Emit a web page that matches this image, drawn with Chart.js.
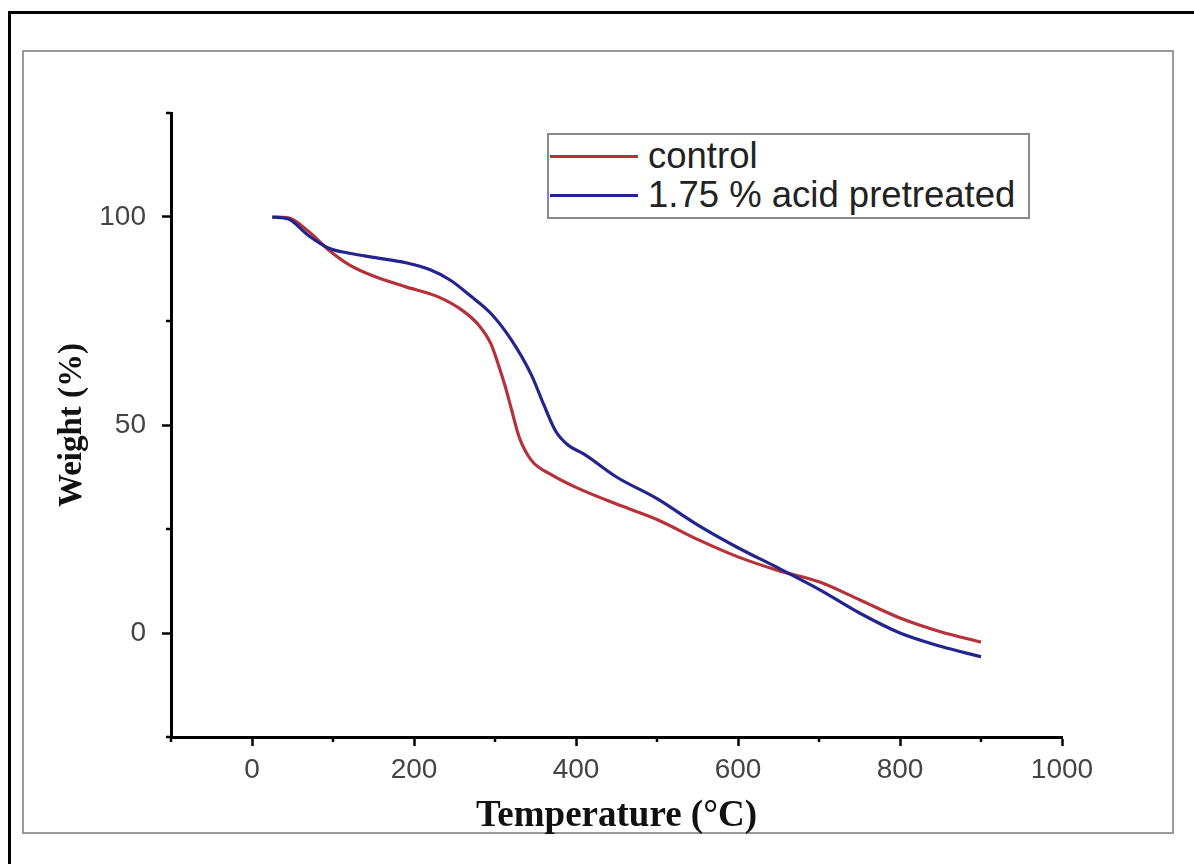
<!DOCTYPE html>
<html>
<head>
<meta charset="utf-8">
<script src="https://cdn.jsdelivr.net/npm/chart.js@4.4.1/dist/chart.umd.min.js"></script>
<style>
  html, body { margin: 0; padding: 0; background: #fff; width: 1194px; height: 864px; overflow: hidden; }
  #outer { position: absolute; left: 8px; top: 11px; width: 1300px; height: 1000px; border-left: 3px solid #000; border-top: 3px solid #000; }
  #frame { position: absolute; left: 22px; top: 50px; width: 1148px; height: 780px; border: 2px solid #9a9a9a; }
  #wrap { position: absolute; left: 0; top: 0; width: 1194px; height: 864px; }
  #legend { position: absolute; left: 547px; top: 133px; width: 479px; height: 82px; border: 2px solid #8a8a8a; background: #fff;
            font-family: "Liberation Sans", Arial, sans-serif; font-size: 36.5px; color: #222; }
  .row { position: absolute; left: 0; height: 40px; display: flex; align-items: center; white-space: nowrap; }
  .swatch { width: 88px; height: 3px; margin-left: 1px; margin-right: 10px; }
</style>
</head>
<body>
<div id="outer"></div>
<div id="frame"></div>
<div id="wrap"><canvas id="c" width="1194" height="864"></canvas></div>
<div id="legend">
  <div class="row" style="top:1px"><div class="swatch" id="sw0"></div><span id="lb0"></span></div>
  <div class="row" style="top:40px"><div class="swatch" id="sw1"></div><span id="lb1"></span></div>
</div>
<script>
// ---- data ----
const seriesNames = ["control", "1.75 % acid pretreated"];
const seriesColors = ["#b5323a", "#24248f"];
const controlT = [25, 45, 70, 95, 120, 150, 190, 230, 260, 280, 295, 305, 313, 320, 330, 345, 370, 400, 450, 500, 550, 600, 650, 700, 750, 800, 850, 900];
const controlW = [100, 99.8, 96.5, 92, 88.5, 85.8, 83.2, 80.8, 77.5, 74, 69.5, 64, 59, 54, 47, 41.5, 38, 35, 31, 27.3, 22.5, 18.3, 15.0, 12.3, 8, 3.6, 0.3, -2.2];
const acidT = [25, 45, 70, 95, 120, 150, 190, 220, 245, 270, 295, 320, 345, 360, 375, 390, 410, 450, 500, 550, 600, 650, 700, 750, 800, 850, 900];
const acidW = [100, 99.5, 95.5, 92.5, 91.3, 90.3, 89, 87.3, 84.8, 81, 76.8, 70.5, 62, 55, 48.5, 45.2, 43, 37.5, 32.3, 26, 20.5, 15.6, 10.5, 4.8, 0, -3.2, -5.7];
const xMajorTicks = [0, 200, 400, 600, 800, 1000];
const xMinorTicks = [-100, 100, 300, 500, 700, 900];
const yMajorTicks = [0, 50, 100];
const yMinorTicks = [-25, 25, 75, 125];
const xTitle = "Temperature (°C)";
const yTitle = "Weight (%)";

// legend
document.getElementById('sw0').style.background = seriesColors[0];
document.getElementById('sw1').style.background = seriesColors[1];
document.getElementById('lb0').textContent = seriesNames[0];
document.getElementById('lb1').textContent = seriesNames[1];

const toPts = (xs, ys) => xs.map((x, i) => ({x: x, y: ys[i]}));

const minorTicks = {
  id: 'minorTicks',
  afterDraw(chart) {
    const ctx = chart.ctx;
    const xs = chart.scales.x, ys = chart.scales.y;
    ctx.save();
    ctx.strokeStyle = '#000';
    ctx.lineWidth = 2.5;
    xMinorTicks.forEach(v => {
      const p = xs.getPixelForValue(v);
      ctx.beginPath(); ctx.moveTo(p, xs.top); ctx.lineTo(p, xs.top + 5); ctx.stroke();
    });
    yMinorTicks.forEach(v => {
      const p = ys.getPixelForValue(v);
      ctx.beginPath(); ctx.moveTo(ys.right, p); ctx.lineTo(ys.right - 5, p); ctx.stroke();
    });
    ctx.restore();
  }
};

new Chart(document.getElementById('c'), {
  type: 'line',
  data: {
    datasets: [
      { label: seriesNames[0], data: toPts(controlT, controlW), borderColor: seriesColors[0], borderWidth: 3.2, pointRadius: 0, cubicInterpolationMode: 'monotone', order: 1 },
      { label: seriesNames[1], data: toPts(acidT, acidW), borderColor: seriesColors[1], borderWidth: 3.2, pointRadius: 0, cubicInterpolationMode: 'monotone', order: 0 }
    ]
  },
  options: {
    responsive: false,
    animation: false,
    layout: { padding: { left: 0, top: 113, right: 132, bottom: 0 } },
    plugins: { legend: { display: false }, tooltip: { enabled: false } },
    scales: {
      x: {
        type: 'linear', min: -100, max: 1000,
        afterFit(s) { s.height = 127; },
        afterBuildTicks(s) { s.ticks = xMajorTicks.map(v => ({value: v})); },
        grid: { display: true, drawOnChartArea: false, drawTicks: true, tickLength: 9, tickColor: '#000', tickWidth: 2.5 },
        border: { display: true, color: '#000', width: 3 },
        ticks: { color: '#444', padding: 7, font: { family: '"Liberation Sans", Arial, sans-serif', size: 28 }, maxRotation: 0,
                 callback: v => String(v) },
        title: { display: true, text: xTitle, color: '#111', padding: { top: 0, bottom: 25 },
                 font: { family: '"Liberation Serif", "Times New Roman", serif', size: 37, weight: 'bold' } }
      },
      y: {
        type: 'linear', min: -25, max: 125,
        afterFit(s) { s.width = 171; },
        afterBuildTicks(s) { s.ticks = yMajorTicks.map(v => ({value: v})); },
        grid: { display: true, drawOnChartArea: false, drawTicks: true, tickLength: 9, tickColor: '#000', tickWidth: 2.5 },
        border: { display: true, color: '#000', width: 3 },
        ticks: { color: '#444', padding: 16, font: { family: '"Liberation Sans", Arial, sans-serif', size: 28 },
                 callback: v => String(v) },
        title: { display: true, text: yTitle, color: '#111', padding: { top: 53, bottom: 0 },
                 font: { family: '"Liberation Serif", "Times New Roman", serif', size: 33, weight: 'bold' } }
      }
    }
  },
  plugins: [minorTicks]
});
</script>
</body>
</html>
